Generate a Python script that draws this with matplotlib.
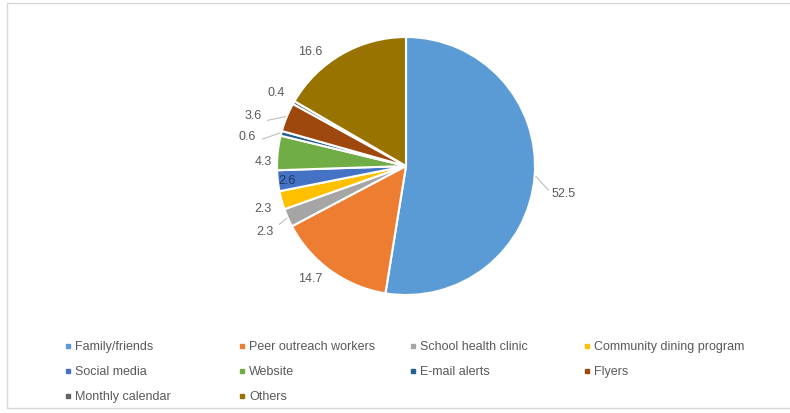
import numpy as np
import matplotlib.pyplot as plt
from matplotlib.patches import Rectangle
from matplotlib.lines import Line2D

# dane z wykresu (%)
categories = ['Family/friends', 'Peer outreach workers', 'School health clinic',
              'Community dining program', 'Social media', 'Website', 'E-mail alerts',
              'Flyers', 'Monthly calendar', 'Others']
values = [52.5, 14.7, 2.3, 2.3, 2.6, 4.3, 0.6, 3.6, 0.4, 16.6]
colors = ['#5B9BD5', '#ED7D31', '#A5A5A5', '#FFC000', '#4472C4',
          '#70AD47', '#255E91', '#9E480E', '#636363', '#997300']

# odleglosc etykiet od srodka i przesuniecie katowe (styl)
label_r = [1.24, 1.14, 1.20, 1.16, 0.93, 1.11, 1.25, 1.25, 1.16, 1.16]
label_da = [-5, -5, 1, 1, 0, 4, 4, 4, 0, 10]
leader = [True, False, True, False, False, False, True, True, False, False]

plt.rcParams['font.family'] = ['Liberation Sans', 'DejaVu Sans']
txt_col = '#595959'

W, H = 790, 414
fig = plt.figure(figsize=(W / 100, H / 100), dpi=100)

# ramka obszaru wykresu
fig.patches.append(Rectangle((7 / W, 5 / H), 1.0, 1 - 9 / H, transform=fig.transFigure,
                             fill=False, edgecolor='#d9d9d9', linewidth=1.0))

cx, cy, R = 406, 167, 129
half = 1.4 * R
ax = fig.add_axes([(cx - half) / W, (H - cy - half) / H, 2 * half / W, 2 * half / H])

wedges, _ = ax.pie(values, colors=colors, startangle=90, counterclock=False,
                   wedgeprops=dict(edgecolor='white', linewidth=1.5))
ax.set_xlim(-1.4, 1.4)
ax.set_ylim(-1.4, 1.4)
ax.set_aspect('equal')
ax.axis('off')

for i, w in enumerate(wedges):
    ang = np.deg2rad((w.theta1 + w.theta2) / 2 + label_da[i])
    x, y = label_r[i] * np.cos(ang), label_r[i] * np.sin(ang)
    col = '#1f3864' if label_r[i] < 1 else txt_col
    ax.text(x, y, f'{values[i]:.1f}', ha='center', va='center', fontsize=9, color=col)
    if leader[i]:
        a0 = np.deg2rad((w.theta1 + w.theta2) / 2)
        r1 = label_r[i] - 0.12
        ax.plot([1.01 * np.cos(a0), r1 * np.cos(ang)], [1.01 * np.sin(a0), r1 * np.sin(ang)],
                color='#bfbfbf', linewidth=0.8)

# legenda (siatka 4 kolumny)
col_x = [68, 242, 413, 587]
row_y = [347, 372, 397]
for i, name in enumerate(categories):
    xm, ym = col_x[i % 4], row_y[i // 4]
    fig.add_artist(Line2D([xm / W], [1 - ym / H], marker='s', markersize=3.5,
                          color=colors[i], linestyle='none', transform=fig.transFigure))
    fig.text((xm + 7) / W, 1 - ym / H, name, ha='left', va='center',
             fontsize=9, color=txt_col)

fig.savefig('out.png', dpi=100)
